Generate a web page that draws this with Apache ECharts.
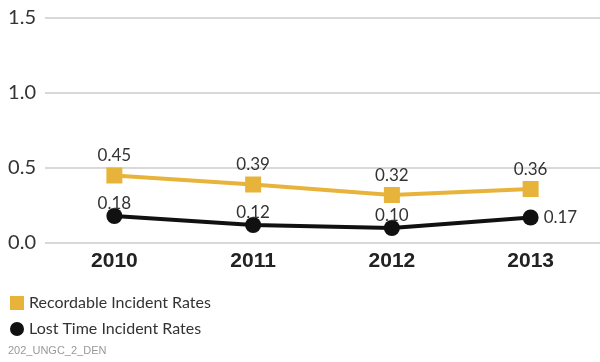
<!DOCTYPE html>
<html><head><meta charset="utf-8">
<script src="https://cdn.jsdelivr.net/npm/echarts@6/dist/echarts.min.js"></script>
<style>html,body{margin:0;padding:0;background:#fff}#c{width:600px;height:362px}</style>
</head><body><div id="c"></div>
<script>
const categories = ['2010', '2011', '2012', '2013'];
const recordable = [0.45, 0.39, 0.32, 0.36];
const lostTime = [0.18, 0.12, 0.10, 0.17];
const lostTimeLabelPos = ['top', 'top', 'top', 'right'];
const yTicks = [0, 0.5, 1.0, 1.5];
const seriesNames = ['Recordable Incident Rates', 'Lost Time Incident Rates'];
const footer = '202_UNGC_2_DEN';

const chart = echarts.init(document.getElementById('c'));
const lblFont = {fontFamily: 'Lato', fontSize: 17, color: '#333'};
chart.setOption({
  animation: false,
  grid: {left: 45, right: -5, top: 18, bottom: 119, containLabel: false},
  xAxis: {
    type: 'category', data: categories, boundaryGap: true,
    axisLine: {show: false}, axisTick: {show: false},
    axisLabel: {fontFamily: 'Liberation Sans', fontWeight: 'bold', fontSize: 21, color: '#222', margin: 8}
  },
  yAxis: {
    type: 'value', min: yTicks[0], max: yTicks[yTicks.length - 1], interval: 0.5,
    axisLine: {show: false}, axisTick: {show: false},
    axisLabel: {fontFamily: 'Lato', fontSize: 20, color: '#333', margin: 9,
      formatter: v => v.toFixed(1)},
    splitLine: {lineStyle: {color: '#cccccc', width: 1.5}}
  },
  legend: {
    orient: 'vertical', left: 10, top: 295, itemGap: 10, padding: 0,
    itemWidth: 14, itemHeight: 14,
    textStyle: {fontFamily: 'Lato', fontSize: 16, color: '#333'},
    data: [{name: seriesNames[0], icon: 'rect'}, {name: seriesNames[1], icon: 'circle'}]
  },
  graphic: [{type: 'text', left: 8, top: 345, style: {text: footer, fontFamily: 'Liberation Sans', fontSize: 11, fill: '#999'}}],
  series: [
    {
      name: seriesNames[0], type: 'line', data: recordable,
      symbol: 'rect', symbolSize: 16,
      lineStyle: {color: '#E8B33A', width: 4},
      itemStyle: {color: '#E8B33A'},
      label: Object.assign({show: true, position: 'top', distance: 3, formatter: p => p.value.toFixed(2)}, lblFont)
    },
    {
      name: seriesNames[1], type: 'line',
      data: lostTime.map((v, i) => ({value: v, label: {position: lostTimeLabelPos[i], distance: lostTimeLabelPos[i] === 'right' ? 5 : -4}})),
      symbol: 'circle', symbolSize: 16,
      lineStyle: {color: '#111', width: 4},
      itemStyle: {color: '#111'},
      label: Object.assign({show: true, position: 'top', distance: -4, formatter: p => p.value.toFixed(2)}, lblFont)
    }
  ]
});
</script></body></html>
